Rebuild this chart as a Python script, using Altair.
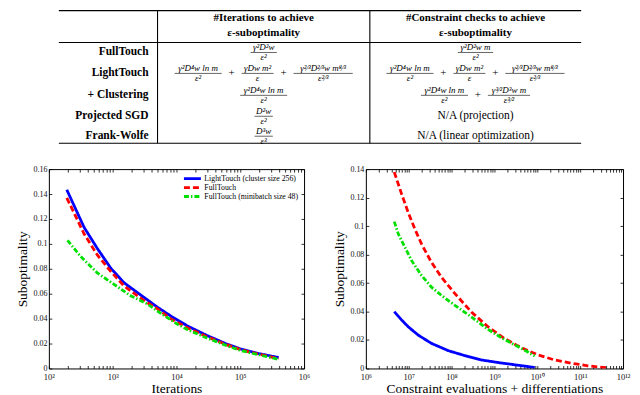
import altair as alt
import pandas as pd

# ---------------- data ----------------
SERIES = ["LightTouch (cluster size 256)", "FullTouch", "FullTouch (minibatch size 48)"]

# left panel: suboptimality vs iterations
left_light_x = [191, 356, 575, 930, 1500, 1910, 3090, 4990, 8550, 15000, 30000, 60000, 100000, 200000, 400000]
left_light_y = [0.1434, 0.1133, 0.0963, 0.0806, 0.0689, 0.0649, 0.0571, 0.0493, 0.0414, 0.0340, 0.0265, 0.0198, 0.0158, 0.0118, 0.0088]
left_full_x = [191, 356, 575, 930, 1500, 3090, 4990, 8050, 15000, 30000, 60000, 100000, 200000, 400000]
left_full_y = [0.1369, 0.1081, 0.0911, 0.0780, 0.0663, 0.0545, 0.0480, 0.0400, 0.0325, 0.0255, 0.0192, 0.0152, 0.0113, 0.0080]
left_mini_x = [196, 316, 575, 1050, 1910, 3480, 5300, 10000, 15000, 30000, 60000, 100000, 200000, 400000]
left_mini_y = [0.1028, 0.0898, 0.0767, 0.0675, 0.0584, 0.0518, 0.0453, 0.0360, 0.0310, 0.0245, 0.0185, 0.0145, 0.0108, 0.0073]

# right panel: suboptimality vs constraint evaluations + differentiations
right_light_x = [4.6e6, 6.9e6, 9.8e6, 1.67e7, 3.4e7, 8.4e7, 2.0e8, 4.9e8, 1.2e9, 2.97e9, 8.7e9]
right_light_y = [0.0399, 0.0339, 0.0292, 0.0234, 0.0176, 0.0125, 0.0091, 0.0060, 0.0042, 0.0026, 0.0007]
right_full_x = [4.6e6, 6.9e6, 9.8e6, 1.4e7, 2.0e7, 3.4e7, 5.8e7, 1.2e8, 2.9e8, 7.1e8, 1.7e9, 4.2e9, 1.04e10, 2.5e10, 6.2e10, 1.5e11, 4.0e11]
right_full_y = [0.1379, 0.1221, 0.1093, 0.0977, 0.0873, 0.0745, 0.0641, 0.0525, 0.0397, 0.0292, 0.0211, 0.0146, 0.0095, 0.0060, 0.0037, 0.0019, 0.0005]
right_mini_x = [4.6e6, 5.75e6, 8.2e6, 1.17e7, 2.0e7, 3.4e7, 5.8e7, 1.2e8, 2.9e8, 7.1e8, 1.7e9, 4.2e9, 8.7e9]
right_mini_y = [0.1031, 0.0942, 0.0850, 0.0757, 0.0652, 0.0571, 0.0513, 0.0443, 0.0362, 0.0274, 0.0204, 0.0142, 0.0088]

left_yticks = [0, 0.02, 0.04, 0.06, 0.08, 0.1, 0.12, 0.14, 0.16]
right_yticks = [0, 0.02, 0.04, 0.06, 0.08, 0.1, 0.12, 0.14]
left_powers = [2, 3, 4, 5, 6]
right_powers = [6, 7, 8, 9, 10, 11, 12]

# table content
row_labels = ["FullTouch", "LightTouch", "+ Clustering", "Projected SGD", "Frank-Wolfe"]
header_iter = ["#Iterations to achieve", "ε-suboptimality"]
header_checks = ["#Constraint checks to achieve", "ε-suboptimality"]
iter_cells = [
    [("γ²D²w", "ε²")],
    [("γ²D⁴w ln m", "ε²"), ("γDw m²", "ε"), ("γ²⁄³D²⁄³w m⁸⁄³", "ε²⁄³")],
    [("γ²D⁴w ln m", "ε²")],
    [("D²w", "ε²")],
    [("D³w", "ε³")],
]
check_cells = [
    [("γ²D²w m", "ε²")],
    [("γ²D⁴w ln m", "ε²"), ("γDw m²", "ε"), ("γ²⁄³D²⁄³w m⁸⁄³", "ε²⁄³")],
    [("γ²D⁴w ln m", "ε²"), ("γ³⁄²D³w m", "ε³⁄²")],
    "N/A (projection)",
    "N/A (linear optimization)",
]

# ---------------- styling / layout ----------------
COLORS = ["#0000ff", "#ff0000", "#00e000"]
DASHES = [[1, 0], [6, 3], [5, 2, 1.5, 2]]
WIDTHS = [2.8, 2.8, 2.2]
SERIF = "Liberation Serif"

OX, OY = 48, 12         # reference pixel that maps to the table origin
TW, TH = 584, 133
T_L, T_R = 58, 582
VLINES = [157, 370]
HLINES = [11, 43, 144]
LABEL_X = 148
ROW_Y = [53, 74, 96, 117, 137]
HEADER_Y = [18, 33]
COL_CX = [263.5, 476]
FS_F = 9
GAP = 20

SUP = "⁰¹²³⁴⁵⁶⁷⁸⁹⁄"


def sup(n):
    return "".join(SUP[int(c)] for c in str(n))


def text_w(s, fs=FS_F):
    w = 0
    for ch in s:
        if ch in SUP:
            w += 0.38 * fs
        elif ch == " ":
            w += 0.3 * fs
        elif ch in "mwD":
            w += 0.72 * fs
        else:
            w += 0.5 * fs
    return w


# ---- build table frames ----
texts, fracs, rules = [], [], []
for i, lab in enumerate(row_labels):
    texts.append(dict(x=LABEL_X - OX, y=ROW_Y[i] - OY, t=lab, kind="label"))
for j, hdr in enumerate([header_iter, header_checks]):
    for k, line in enumerate(hdr):
        texts.append(dict(x=COL_CX[j] - OX, y=HEADER_Y[k] - OY, t=line, kind="header"))
for j, cells in enumerate([iter_cells, check_cells]):
    for i, cell in enumerate(cells):
        cy = ROW_Y[i] - OY
        if isinstance(cell, str):
            texts.append(dict(x=COL_CX[j] - OX, y=cy, t=cell, kind="plain"))
            continue
        widths = [max(text_w(n), text_w(d)) + 2 for n, d in cell]
        total = sum(widths) + GAP * (len(cell) - 1)
        x0 = COL_CX[j] - OX - total / 2
        for k, ((n, d), w) in enumerate(zip(cell, widths)):
            cx = x0 + w / 2
            texts.append(dict(x=cx, y=cy - 5.5, t=n, kind="num"))
            texts.append(dict(x=cx, y=cy + 5, t=d, kind="num"))
            fracs.append(dict(x=x0, x2=x0 + w, y=cy, y2=cy))
            if k < len(cell) - 1:
                texts.append(dict(x=x0 + w + GAP / 2, y=cy, t="+", kind="plus"))
            x0 += w + GAP
for hy in HLINES:
    rules.append(dict(x=T_L - OX, x2=T_R - OX, y=hy - OY, y2=hy - OY))
for vx in VLINES:
    rules.append(dict(x=vx - OX, x2=vx - OX, y=HLINES[0] - OY, y2=HLINES[-1] - OY))
# invisible spacer reaching the page's left edge, so the table origin lines up with the plots
spacer = pd.DataFrame([dict(x=-(OX - 8), x2=-(OX - 8) + 1, y=20, y2=20)])

tdf = pd.DataFrame(texts)
fdf = pd.DataFrame(fracs)
rdf = pd.DataFrame(rules)

txs = alt.Scale(domain=[0, TW], nice=False, zero=False)
tys = alt.Scale(domain=[0, TH], nice=False, zero=False, reverse=True)


def tpos():
    return dict(x=alt.X("x:Q", scale=txs, axis=None), y=alt.Y("y:Q", scale=tys, axis=None), text="t:N")


base_t = alt.Chart(tdf)
lab_layer = base_t.mark_text(align="right", baseline="middle", font=SERIF, fontWeight="bold", fontSize=11.5, color="black").encode(**tpos()).transform_filter("datum.kind == 'label'")
hdr_layer = base_t.mark_text(align="center", baseline="middle", font=SERIF, fontWeight="bold", fontSize=11, color="black").encode(**tpos()).transform_filter("datum.kind == 'header'")
num_layer = base_t.mark_text(align="center", baseline="middle", font=SERIF, fontStyle="italic", fontSize=FS_F, color="black").encode(**tpos()).transform_filter("datum.kind == 'num'")
plus_layer = base_t.mark_text(align="center", baseline="middle", font=SERIF, fontSize=11, color="black").encode(**tpos()).transform_filter("datum.kind == 'plus'")
plain_layer = base_t.mark_text(align="center", baseline="middle", font=SERIF, fontSize=11.5, color="black").encode(**tpos()).transform_filter("datum.kind == 'plain'")


def rule_layer(df, width, opacity=1):
    return alt.Chart(df).mark_rule(color="black", strokeWidth=width, strokeOpacity=opacity).encode(
        x=alt.X("x:Q", scale=txs, axis=None), x2="x2:Q",
        y=alt.Y("y:Q", scale=tys, axis=None), y2="y2:Q")


table = alt.layer(rule_layer(spacer, 1, 0), rule_layer(rdf, 1.1), rule_layer(fdf, 0.6),
                  lab_layer, hdr_layer, num_layer, plus_layer, plain_layer).properties(
    width=TW, height=TH, view=alt.ViewBackground(stroke="transparent"))


# ---- plots ----
def long_df(xs_list, ys_list):
    rows = []
    for s, xs, ys in zip(SERIES, xs_list, ys_list):
        for xv, yv in zip(xs, ys):
            rows.append(dict(series=s, x=xv, y=yv))
    return pd.DataFrame(rows)


def label_expr(powers):
    parts = [f"datum.value == {10 ** p} ? '10{sup(p)}'" for p in powers]
    return " : ".join(parts) + " : ''"


def minor_ticks(powers):
    vals = []
    for p in powers[:-1]:
        for k in range(1, 10):
            vals.append(k * 10 ** p)
    vals.append(10 ** powers[-1])
    return vals


def panel(df, powers, yticks, xtitle, w, h, legend):
    xdom = [10 ** powers[0], 10 ** powers[-1]]
    xs = alt.Scale(type="log", domain=xdom, nice=False)
    ys = alt.Scale(domain=[0, yticks[-1]], nice=False)
    common = dict(domain=False, grid=False, tickColor="black", tickSize=3, offset=-3, tickWidth=0.8)
    lines = alt.Chart(df).mark_line(clip=True, strokeCap="butt").encode(
        x=alt.X("x:Q", scale=xs, axis=alt.Axis(orient="bottom", values=minor_ticks(powers),
                                                labelExpr=label_expr(powers), labelFlush=False,
                                                labelOverlap=False, labelPadding=4, labelFontSize=8.5,
                                                title=xtitle, titlePadding=1, **common)),
        y=alt.Y("y:Q", scale=ys, axis=alt.Axis(orient="left", values=yticks, format="~g",
                                                labelFlush=False, labelPadding=2, title="Suboptimality",
                                                titlePadding=3, **common)),
        color=alt.Color("series:N", scale=alt.Scale(domain=SERIES, range=COLORS), legend=legend),
        strokeDash=alt.StrokeDash("series:N", scale=alt.Scale(domain=SERIES, range=DASHES), legend=legend),
        strokeWidth=alt.StrokeWidth("series:N", scale=alt.Scale(domain=SERIES, range=WIDTHS), legend=None),
    )
    mirror = alt.Chart(df).mark_line(strokeOpacity=0).encode(
        x=alt.X("x:Q", scale=xs, axis=alt.Axis(orient="top", values=minor_ticks(powers), labels=False, title=None, **common)),
        y=alt.Y("y:Q", scale=ys, axis=alt.Axis(orient="right", values=yticks, labels=False, title=None, **common)),
    )
    return alt.layer(lines, mirror).resolve_axis(x="independent", y="independent").properties(
        width=w, height=h, view=alt.ViewBackground(stroke="black", strokeWidth=1))


left_df = long_df([left_light_x, left_full_x, left_mini_x], [left_light_y, left_full_y, left_mini_y])
right_df = long_df([right_light_x, right_full_x, right_mini_x], [right_light_y, right_full_y, right_mini_y])

leg = alt.Legend(orient="top-right", offset=5, title=None, symbolType="stroke", symbolSize=289,
                 symbolStrokeWidth=2.5, labelFont=SERIF, labelFontSize=7.8, labelLimit=300,
                 rowPadding=0, clipHeight=9, padding=0, labelOffset=2)

left = panel(left_df, left_powers, left_yticks, "Iterations", 256, 200, leg)
right = panel(right_df, right_powers, right_yticks, "Constraint evaluations + differentiations", 258, 200, None)

row = alt.hconcat(left, right, spacing=21).resolve_scale(
    color="independent", strokeDash="independent", strokeWidth="independent")

chart = alt.vconcat(table, row, spacing=17).properties(padding=0).configure_axis(
    labelFont=SERIF, labelFontSize=8, labelColor="#111", titleFont=SERIF, titleFontSize=13.5,
    titleFontWeight="normal", titleColor="black")

chart.save("out.html", embed_options={"renderer": "svg", "actions": False})
